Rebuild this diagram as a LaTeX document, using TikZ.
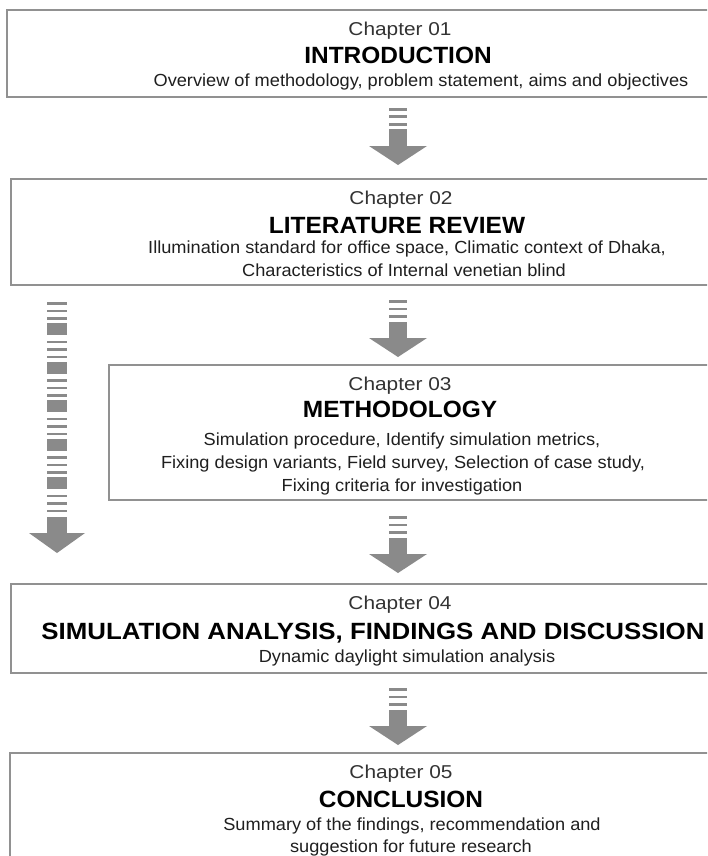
\documentclass[tikz,border=0pt]{standalone}
\usepackage{fontspec}
\usepackage{graphicx}
\setmainfont{Liberation Sans}[FakeStretch=1.12]
\newfontfamily\descf{Liberation Sans}[FakeStretch=1.04]
\newfontfamily\titf{Liberation Sans}[FakeStretch=1.04]
\newcommand\fitto[2]{\resizebox{#1}{\height}{#2}}
\definecolor{boxgray}{RGB}{145,145,145}
\definecolor{arrgray}{RGB}{138,138,138}
\tikzset{
  boxnode/.style={draw=boxgray, line width=2pt, rectangle, anchor=north west, inner sep=0, outer sep=0},
  chap/.style={anchor=base, inner sep=0, text=black!80, font=\fontsize{18.6}{18.6}\selectfont},
  tit/.style={anchor=base, inner sep=0, text=black, font=\titf\fontsize{23.5}{23.5}\selectfont\bfseries},
  desc/.style={anchor=base, inner sep=0, text=black!88, font=\descf\fontsize{17.5}{17.5}\selectfont},
  arr/.style={fill=arrgray, draw=none},
}
\begin{document}
\begin{tikzpicture}[x=1pt,y=-1pt]
\useasboundingbox (0,0) rectangle (707,856);
\clip (0,0) rectangle (707,856);
\fill[white] (0,0) rectangle (707,856);

% boxes
\node[boxnode, minimum width=723pt, minimum height=87pt] (b1) at (7,10) {};
\node[boxnode, minimum width=719pt, minimum height=106pt] (b2) at (11,179) {};
\node[boxnode, minimum width=621pt, minimum height=135pt] (b3) at (109,365) {};
\node[boxnode, minimum width=719pt, minimum height=89pt] (b4) at (11,584) {};
\node[boxnode, minimum width=720pt, minimum height=130pt] (b5) at (10,753) {};

% box 1
\node[chap] (c1) at (400,36) {Chapter 01};
\node[tit] (t1) at (398,64) {INTRODUCTION};
\node[desc] (d1) at (421,87) {Overview of methodology, problem statement, aims and objectives};

% box 2
\node[chap] (c2) at (401,204) {Chapter 02};
\node[tit] (t2) at (397,233) {LITERATURE REVIEW};
\node[desc] (d2a) at (407,253) {Illumination standard for office space, Climatic context of Dhaka,};
\node[desc] (d2b) at (404,276) {Characteristics of Internal venetian blind};

% box 3
\node[chap] (c3) at (400,390) {Chapter 03};
\node[tit] (t3) at (400,417) {METHODOLOGY};
\node[desc] (d3a) at (402,445) {Simulation procedure, Identify simulation metrics,};
\node[desc] (d3b) at (403,468) {Fixing design variants, Field survey, Selection of case study,};
\node[desc] (d3c) at (402,491) {Fixing criteria for investigation};

% box 4
\node[chap] (c4) at (400,609) {Chapter 04};
\node[tit] (t4) at (373,639) {\fitto{663pt}{SIMULATION ANALYSIS, FINDINGS AND DISCUSSION}};
\node[desc] (d4) at (407,662) {Dynamic daylight simulation analysis};

% box 5
\node[chap] (c5) at (401,778) {Chapter 05};
\node[tit] (t5) at (401,807) {CONCLUSION};
\node[desc] (d5a) at (412,830) {Summary of the findings, recommendation and};
\node[desc] (d5b) at (411,852) {suggestion for future research};

% short striped arrows (x centre 398)
\foreach \t in {108,300,516,688}{
  \foreach \k in {0,7.5,15}{
    \fill[arr] (389,\t+\k) rectangle (407,\t+\k+2.7);
  }
  \fill[arr] (389,\t+21.5) rectangle (407,\t+39);
  \fill[arr] (369,\t+38) -- (427,\t+38) -- (398,\t+57) -- cycle;
}

% long striped arrow on the left (x centre 57)
\foreach \g in {0,...,5}{
  \foreach \k in {0,7.5,15}{
    \fill[arr] (47,302+38.5*\g+\k) rectangle (67,302+38.5*\g+\k+2.6);
  }
}
\foreach \g in {0,...,4}{
  \fill[arr] (47,323+38.5*\g) rectangle (67,335+38.5*\g);
}
\fill[arr] (47,517) rectangle (67,534);
\fill[arr] (29,533) -- (85,533) -- (57,553) -- cycle;
\end{tikzpicture}
\end{document}
